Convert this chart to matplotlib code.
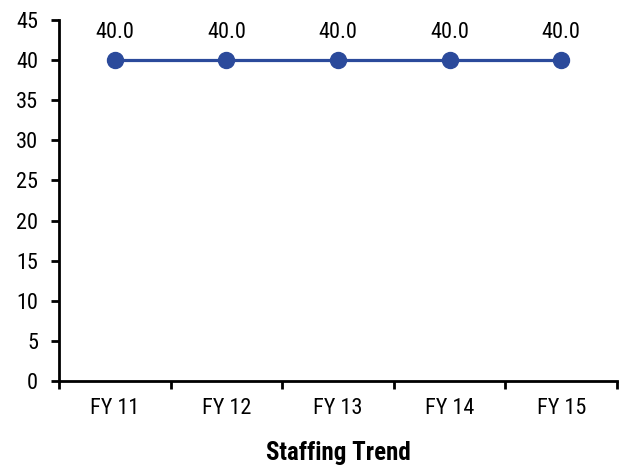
import matplotlib.pyplot as plt

categories = ["FY 11", "FY 12", "FY 13", "FY 14", "FY 15"]
staffing = [40.0, 40.0, 40.0, 40.0, 40.0]
y_ticks = [0, 5, 10, 15, 20, 25, 30, 35, 40, 45]

plt.rcParams["font.family"] = ["Roboto Condensed", "DejaVu Sans"]

line_color = "#2B4A9B"
fs = 16

fig = plt.figure(figsize=(6.23, 4.68), dpi=100)
ax = fig.add_axes([59 / 623, (468 - 381) / 468, (617 - 59) / 623, (381 - 20) / 468])

x = list(range(len(categories)))
ax.plot(x, staffing, "-o", color=line_color, lw=2.3, ms=11.5, zorder=3)
for xi, v in zip(x, staffing):
    ax.annotate(f"{v:.1f}", (xi, v), xytext=(0, 12), textcoords="offset points",
                ha="center", va="bottom", fontsize=fs)

ax.set_xlim(-0.5, len(categories) - 0.5)
ax.set_ylim(0, 45)
ax.set_yticks(y_ticks)
ax.set_yticklabels([str(t) for t in y_ticks], fontsize=fs)

# category labels centred, ticks between categories (Excel style)
ax.set_xticks([i - 0.5 for i in range(len(categories) + 1)])
ax.set_xticklabels([])
ax.set_xticks(x, minor=True)
ax.set_xticklabels(categories, minor=True, fontsize=fs)
ax.tick_params(axis="x", which="minor", length=0, pad=12)
ax.tick_params(axis="x", which="major", direction="out", length=6, width=2)
ax.tick_params(axis="y", direction="out", length=6, width=2, pad=9)

for side in ("top", "right"):
    ax.spines[side].set_visible(False)
for side in ("left", "bottom"):
    ax.spines[side].set_linewidth(2)

ax.set_xlabel("Staffing Trend", fontsize=18, fontweight="bold", labelpad=16)

fig.savefig("out.png", dpi=100)
